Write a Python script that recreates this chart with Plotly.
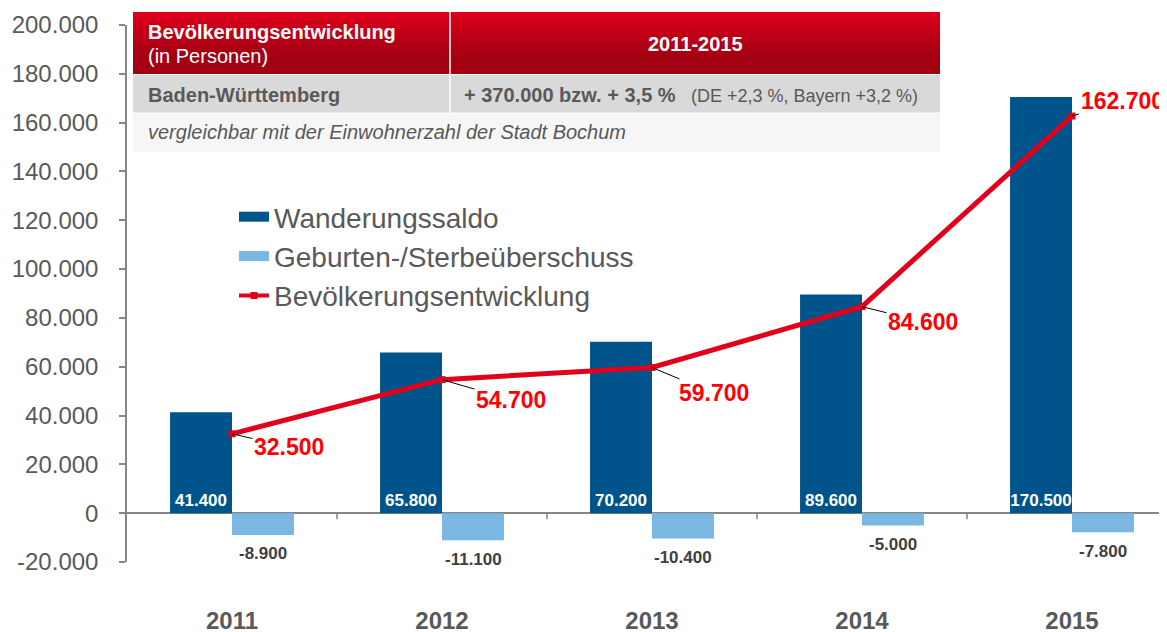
import plotly.graph_objects as go

# ---------------- data ----------------
years = ["2011", "2012", "2013", "2014", "2015"]
wanderungssaldo = [41400, 65800, 70200, 89600, 170500]
geburten_saldo = [-8900, -11100, -10400, -5000, -7800]
bevoelkerung = [32500, 54700, 59700, 84600, 162700]

y_tickvals = [-20000, 0, 20000, 40000, 60000, 80000, 100000, 120000, 140000, 160000, 180000, 200000]
y_ticktext = ["-20.000", "0", "20.000", "40.000", "60.000", "80.000", "100.000",
              "120.000", "140.000", "160.000", "180.000", "200.000"]

# label offsets (pixels) for the line value labels
label_dx = [57, 69, 62, 61, 50]
label_dy = [13, 20, 26, 15, -15]


def de(v):
    return f"{v:,}".replace(",", ".")


FONT = "Liberation Sans, Arial, sans-serif"
DARK = "#00548C"
LIGHT = "#7AB7E2"
RED = "#E2001A"
GRAY = "#595959"

# figure geometry (page has an 8px body margin, compensate)
OFF = 8
W, H = 1167, 632
PLOT_L, PLOT_T, PLOT_W, PLOT_H = 127 - OFF, 25 - OFF, 1040, 537
ML, MT = PLOT_L, PLOT_T
MR = W - PLOT_L - PLOT_W
MB = H - PLOT_T - PLOT_H


def px(x):
    # x: target page pixel -> paper fraction
    return (x - OFF - PLOT_L) / PLOT_W


def py(y):
    return (PLOT_T + PLOT_H - (y - OFF)) / PLOT_H


fig = go.Figure()

fig.add_trace(go.Bar(
    x=years, y=wanderungssaldo, name="Wanderungssaldo",
    marker=dict(color=DARK, line=dict(width=0)),
    text=[de(v) for v in wanderungssaldo],
    texttemplate="<b>%{text}</b>",
    textposition="inside", insidetextanchor="start", textangle=0,
    constraintext="none",
    insidetextfont=dict(color="white", size=17, family=FONT),
    showlegend=False, hoverinfo="skip",
))
fig.add_trace(go.Bar(
    x=years, y=geburten_saldo, name="Geburten-/Sterbeüberschuss",
    marker=dict(color=LIGHT, line=dict(width=0)),
    textposition="none",
    showlegend=False, hoverinfo="skip",
))
fig.add_trace(go.Scatter(
    x=years, y=bevoelkerung, name="Bevölkerungsentwicklung",
    mode="lines+markers",
    line=dict(color=RED, width=5),
    marker=dict(color=RED, size=7, symbol="square"),
    showlegend=False, hoverinfo="skip", cliponaxis=False,
))

# legend entries (wide rectangular swatches like the original)
fig.add_trace(go.Scatter(x=[None], y=[None], mode="lines", name="Wanderungssaldo",
                         line=dict(color=DARK, width=13), legendrank=1))
fig.add_trace(go.Scatter(x=[None], y=[None], mode="lines", name="Geburten-/Sterbeüberschuss",
                         line=dict(color=LIGHT, width=13), legendrank=2))
fig.add_trace(go.Scatter(x=[None], y=[None], mode="lines+markers", name="Bevölkerungsentwicklung",
                         line=dict(color=RED, width=4), marker=dict(color=RED, size=7, symbol="square"),
                         legendrank=3))

# value labels below the negative bars
for k, v in enumerate(geburten_saldo):
    fig.add_annotation(
        x=k, y=v, xref="x", yref="y", showarrow=False,
        text=f"<b>{de(v)}</b>", xshift=31, yshift=-19,
        xanchor="center", yanchor="middle",
        font=dict(color="#404040", size=17, family=FONT),
    )

# value labels for the line with leader lines
for k, (v, dx, dy) in enumerate(zip(bevoelkerung, label_dx, label_dy)):
    fig.add_annotation(
        x=k, y=v, xref="x", yref="y", axref="pixel", ayref="pixel",
        text=f"<b>{de(v)}</b>",
        showarrow=True, arrowhead=0, arrowwidth=1, arrowcolor="black",
        ax=dx, ay=dy, standoff=0,
        font=dict(color="#FF0000", size=23, family=FONT),
    )

shapes = []
# small tick marks on the zero line between categories
for k in range(len(years) - 1):
    shapes.append(dict(
        type="line", xref="x", yref="y", ysizemode="pixel", yanchor=0,
        x0=k + 0.5, x1=k + 0.5, y0=0, y1=-6,
        line=dict(color="#808080", width=1.5),
    ))

# ---------------- table on top ----------------
tx0, tx1 = 133, 940
hy0, hy1 = 12, 74
c_top = (0xDC, 0x00, 0x1C)
c_bot = (0xA3, 0x00, 0x12)
N = 16
for i in range(N):
    t = i / (N - 1)
    col = tuple(round(a + (b - a) * min(1, t * 1.4)) for a, b in zip(c_top, c_bot))
    y0 = hy0 + (hy1 - hy0) * i / N
    shapes.append(dict(type="rect", xref="paper", yref="paper",
                       x0=px(tx0), x1=px(tx1), y0=py(y0), y1=py(hy1),
                       fillcolor="rgb(%d,%d,%d)" % col, line=dict(width=0), layer="above"))
shapes.append(dict(type="rect", xref="paper", yref="paper",
                   x0=px(tx0), x1=px(tx1), y0=py(75), y1=py(112.5),
                   fillcolor="#D9D9D9", line=dict(width=0), layer="above"))
shapes.append(dict(type="rect", xref="paper", yref="paper",
                   x0=px(tx0), x1=px(tx1), y0=py(113.5), y1=py(152),
                   fillcolor="#F6F6F6", line=dict(width=0), layer="above"))
shapes.append(dict(type="line", xref="paper", yref="paper",
                   x0=px(450), x1=px(450), y0=py(hy0), y1=py(112.5),
                   line=dict(color="white", width=1.5), layer="above"))
fig.update_layout(shapes=shapes)

tbl = [
    ("<b>Bevölkerungsentwicklung</b>", 146, 32, "left", "white", 20),
    ("(in Personen)", 146, 56, "left", "white", 20),
    ("<b>2011-2015</b>", 695, 44, "center", "white", 20),
    ("<b>Baden-Württemberg</b>", 146, 95, "left", GRAY, 20),
    ("<b>+ 370.000 bzw. + 3,5 %</b>", 462, 95, "left", GRAY, 20),
    ("(DE +2,3 %, Bayern +3,2 %)", 689, 96, "left", GRAY, 18),
    ("<i>vergleichbar mit der Einwohnerzahl der Stadt Bochum</i>", 146, 132, "left", GRAY, 20),
]
for txt, x, y, anc, col, sz in tbl:
    fig.add_annotation(text=txt, xref="paper", yref="paper", x=px(x), y=py(y),
                       xanchor=anc, yanchor="middle", showarrow=False,
                       font=dict(color=col, size=sz, family=FONT))

fig.update_layout(
    width=W, height=H,
    margin=dict(l=ML, r=MR, t=MT, b=MB, autoexpand=False),
    paper_bgcolor="white", plot_bgcolor="white",
    font=dict(family=FONT, color=GRAY),
    barmode="group", bargap=0.41, bargroupgap=0,
    showlegend=True,
    legend=dict(x=px(234), y=py(192), xanchor="left", yanchor="top",
                font=dict(size=28, color=GRAY, family=FONT),
                bgcolor="rgba(0,0,0,0)", tracegroupgap=0),
    xaxis=dict(type="category", range=[-0.5, (PLOT_W / 210) - 0.5], automargin=False,
               showline=False, ticks="", showgrid=False, zeroline=False,
               tickvals=years, ticktext=[f"<b>{y}</b>" for y in years],
               tickfont=dict(size=24, color=GRAY, family=FONT),
               ticklabelstandoff=42),
    yaxis=dict(range=[-20000, 200000], tickvals=y_tickvals, ticktext=y_ticktext,
               automargin=False,
               showline=True, linecolor="#868686", linewidth=1.5,
               ticks="outside", ticklen=6, tickcolor="#868686", tickwidth=1.5,
               showgrid=False, zeroline=True, zerolinecolor="#868686", zerolinewidth=1.5,
               tickfont=dict(size=24, color=GRAY, family=FONT),
               ticklabelstandoff=16),
)

fig.write_html("out.html")
